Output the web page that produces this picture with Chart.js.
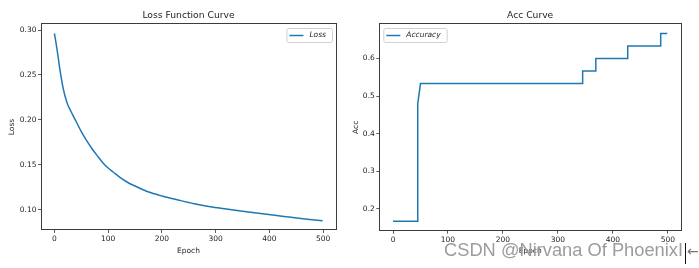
<!DOCTYPE html>
<html>
<head>
<meta charset="utf-8">
<script src="https://cdn.jsdelivr.net/npm/chart.js@4.4.1/dist/chart.umd.min.js"></script>
<style>
	html, body { margin: 0; padding: 0; background: #fff; }
	body { width: 699px; height: 268px; position: relative; overflow: hidden; }
	.box { position: absolute; top: 0; height: 268px; }
	#loss-box { left: 0; width: 340px; }
	#acc-box { left: 340px; width: 359px; }
	.mark {
		position: absolute; left: 444px; top: 241px;
		font: 18.3px "Liberation Sans", Arial, sans-serif; line-height: 1;
		color: #9c9c9c; white-space: nowrap;
	}
	.caret { position: absolute; left: 685px; top: 243px; width: 1px; height: 21px; background: #111; }
	.arrow { position: absolute; left: 687px; top: 244px; font: 14px "DejaVu Sans", sans-serif; line-height: 1; color: #777; }
</style>
</head>
<body>
<div class="box" id="loss-box"><canvas id="loss-canvas"></canvas></div>
<div class="box" id="acc-box"><canvas id="acc-canvas"></canvas></div>
<div class="mark">CSDN @Nirvana Of PhoenixI</div>
<div class="caret"></div>
<div class="arrow">←</div>
<script>
	'use strict';

	// values
	var lossEpochs = [ 0, 5, 10, 15, 20, 25, 30, 35, 40, 50, 60, 70, 80, 90, 100, 110, 120, 135, 150, 165, 180, 200, 230, 260, 290, 320, 350, 380, 410, 440, 470, 499 ];
	var lossValues = [ 0.2963, 0.278, 0.257, 0.239, 0.226, 0.2167, 0.2105, 0.2045, 0.1988, 0.187, 0.177, 0.168, 0.16, 0.1525, 0.1465, 0.1418, 0.137, 0.131, 0.1265, 0.1224, 0.119, 0.1155, 0.111, 0.1068, 0.1035, 0.101, 0.0985, 0.0962, 0.094, 0.0917, 0.0896, 0.0878 ];

	var accEpochs = [ 0, 44, 45, 50, 344, 345, 368, 369, 426, 427, 486, 487, 499 ];
	var accValues = [ 0.1667, 0.1667, 0.48, 0.5333, 0.5333, 0.5667, 0.5667, 0.6, 0.6, 0.6333, 0.6333, 0.6667, 0.6667 ];

	var epochTicks = [ 0, 100, 200, 300, 400, 500 ];
	var lossTicks = [ 0.10, 0.15, 0.20, 0.25, 0.30 ];
	var accTicks = [ 0.2, 0.3, 0.4, 0.5, 0.6 ];

	var FONT = '"DejaVu Sans", sans-serif';
	var INK = '#1e1e1e';
	var BLUE = '#1f77b4';

	function points( xs, ys ) {
		return xs.map( function( x, i ) {
			return { x: x, y: ys[ i ] };
		} );
	}

	function fixedTicks( list ) {
		return function( scale ) {
			scale.ticks = list.map( function( v ) {
				return { value: v };
			} );
		};
	}

	// frame, title and legend drawn like matplotlib
	var decor = {
		id: 'decor',
		afterDraw: function( chart, args, opts ) {
			var ctx = chart.ctx;
			var a = chart.chartArea;
			ctx.save();

			ctx.strokeStyle = '#3c3c3c';
			ctx.lineWidth = 1;
			ctx.strokeRect( Math.round( a.left ) + 0.5, Math.round( a.top ) - 0.5, Math.round( a.right - a.left ), Math.round( a.bottom - a.top ) );

			ctx.fillStyle = INK;
			ctx.font = '9.2px ' + FONT;
			ctx.textAlign = 'center';
			ctx.textBaseline = 'middle';
			ctx.fillText( opts.title, ( a.left + a.right ) / 2, a.top - 8 );

			var label = chart.data.datasets[ 0 ].label;
			ctx.font = 'italic 7.5px ' + FONT;
			var w = 24 + ctx.measureText( label ).width + 5;
			var h = 14;
			var x = opts.legendRight ? a.right - 4 - w : a.left + 4;
			var y = a.top + 4;
			ctx.beginPath();
			ctx.roundRect( x + 0.5, y + 0.5, w, h, 2 );
			ctx.fillStyle = 'rgba(255,255,255,0.8)';
			ctx.fill();
			ctx.strokeStyle = '#d0d0d0';
			ctx.stroke();

			ctx.beginPath();
			ctx.moveTo( x + 3, y + h / 2 + 0.5 );
			ctx.lineTo( x + 17, y + h / 2 + 0.5 );
			ctx.strokeStyle = BLUE;
			ctx.lineWidth = 1.5;
			ctx.stroke();

			ctx.fillStyle = INK;
			ctx.textAlign = 'left';
			ctx.fillText( label, x + 23, y + h / 2 + 0.5 );
			ctx.restore();
		}
	};

	function makeChart( canvasId, cfg ) {
		return new Chart( document.getElementById( canvasId ), {
			type: 'line',
			data: {
				datasets: [ {
					label: cfg.label,
					data: points( cfg.xs, cfg.ys ),
					borderColor: BLUE,
					borderWidth: 1.5,
					pointRadius: 0,
					tension: 0,
					cubicInterpolationMode: cfg.smooth ? 'monotone' : 'default',
					fill: false
				} ]
			},
			options: {
				responsive: true,
				maintainAspectRatio: false,
				animation: false,
				events: [],
				layout: { padding: { left: 0, top: 24, right: cfg.padRight, bottom: 0 } },
				plugins: {
					legend: { display: false },
					tooltip: { enabled: false },
					decor: { title: cfg.title, legendRight: cfg.legendRight }
				},
				scales: {
					x: {
						type: 'linear',
						min: -24.95,
						max: 523.95,
						afterBuildTicks: fixedTicks( epochTicks ),
						afterFit: function( s ) { s.height = cfg.xHeight; },
						grid: { drawOnChartArea: false, drawTicks: true, tickLength: 3, tickColor: '#333', tickWidth: 0.8 },
						border: { display: false },
						ticks: { color: INK, font: { family: FONT, size: 7.5 }, padding: 2, maxRotation: 0, callback: function( v ) { return String( v ); } },
						title: { display: true, text: 'Epoch', color: INK, font: { family: FONT, size: 7.5 }, padding: { top: 0, bottom: 12.5 } }
					},
					y: {
						min: cfg.yMin,
						max: cfg.yMax,
						afterBuildTicks: fixedTicks( cfg.yTicks ),
						afterFit: function( s ) { s.width = cfg.yWidth; },
						grid: { drawOnChartArea: false, drawTicks: true, tickLength: 3, tickColor: '#333', tickWidth: 0.8 },
						border: { display: false },
						ticks: { color: INK, font: { family: FONT, size: 7.5 }, padding: 1.5, callback: function( v ) { return v.toFixed( cfg.digits ); } },
						title: { display: true, text: cfg.yTitle, color: INK, font: { family: FONT, size: 7.5 }, padding: { top: cfg.yTitlePad, bottom: 0 } }
					}
				}
			},
			plugins: [ decor ]
		} );
	}

	makeChart( 'loss-canvas', {
		label: 'Loss',
		title: 'Loss Function Curve',
		xs: lossEpochs,
		ys: lossValues,
		smooth: true,
		yMin: 0.0776,
		yMax: 0.3067,
		yTicks: lossTicks,
		digits: 2,
		yTitle: 'Loss',
		yTitlePad: 7.6,
		yWidth: 41,
		xHeight: 38,
		padRight: 4,
		legendRight: true
	} );

	makeChart( 'acc-canvas', {
		label: 'Accuracy',
		title: 'Acc Curve',
		xs: accEpochs,
		ys: accValues,
		smooth: false,
		yMin: 0.1417,
		yMax: 0.6917,
		yTicks: accTicks,
		digits: 1,
		yTitle: 'Acc',
		yTitlePad: 11.1,
		yWidth: 39.3,
		xHeight: 37.3,
		padRight: 18,
		legendRight: false
	} );
</script>
</body>
</html>
